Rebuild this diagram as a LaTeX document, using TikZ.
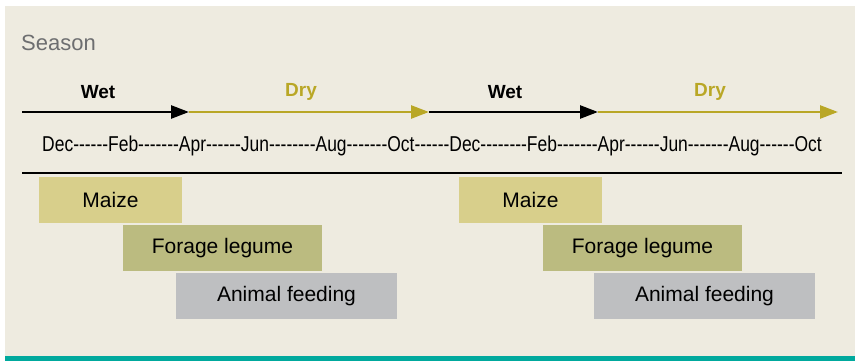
\documentclass[tikz,border=0pt]{standalone}
\usepackage{fontspec}
\setmainfont{Liberation Sans}
\newfontfamily\monthfont{Liberation Sans}
\usepackage{graphicx}
\usetikzlibrary{arrows.meta}
\definecolor{cream}{HTML}{EEEBE0}
\definecolor{teal}{HTML}{00A99D}
\definecolor{dryc}{HTML}{B9A726}
\definecolor{maizec}{HTML}{D8CF8B}
\definecolor{foragec}{HTML}{BBBB80}
\definecolor{animalc}{HTML}{BEBFC1}
\definecolor{seasonc}{HTML}{6D6E70}
\tikzset{
  seg/.style={line width=2.6pt, -{Triangle[length=18pt,width=13pt]}},
  seglabel/.style={font=\fontsize{19}{19}\selectfont\bfseries, inner sep=0pt},
  bar/.style={rectangle, inner sep=0pt, minimum height=46pt, font=\fontsize{21}{21}\selectfont, text=black},
}
\begin{document}
\begin{tikzpicture}[x=1pt,y=-1pt]
\useasboundingbox (0,0) rectangle (855,361);
\fill[white] (0,0) rectangle (855,361);
\fill[cream] (5,6) rectangle (855,356);
\fill[teal] (5,356) rectangle (855,361);

\node[anchor=west, inner sep=0pt, text=seasonc, font=\fontsize{22}{22}\selectfont] (season) at (21,43) {Season};

% season arrows
\coordinate (a0) at (22,112);
\coordinate (a1) at (189,112);
\coordinate (a2) at (429,112);
\coordinate (a3) at (598,112);
\coordinate (a4) at (838,112);
\draw[seg, black] (a0) -- (a1);
\draw[seg, dryc] (a1) -- (a2);
\draw[seg, black] (a2) -- (a3);
\draw[seg, dryc] (a3) -- (a4);

\node[seglabel, text=black] (wet1) at (98,92) {Wet};
\node[seglabel, text=dryc] (dry1) at (301,92) {Dry};
\node[seglabel, text=black] (wet2) at (505,92) {Wet};
\node[seglabel, text=dryc] (dry2) at (710,92) {Dry};

% months
\node[inner sep=0pt, font=\monthfont\fontsize{21.5}{21.5}\selectfont] (months) at (432,146)
  {\scalebox{0.812}[1]{Dec------Feb-------Apr------Jun--------Aug-------Oct------Dec--------Feb-------Apr------Jun-------Aug------Oct}};

% rule
\coordinate (r0) at (22,173);
\coordinate (r1) at (842,173);
\draw[line width=2.2pt, black] (r0) -- (r1);

% bars, first year
\node[bar, fill=maizec, minimum width=143pt] (maize1) at (110.5,200) {Maize};
\node[bar, fill=foragec, minimum width=199pt] (forage1) at (222.5,248) {Forage legume};
\node[bar, fill=animalc, minimum width=221pt] (animal1) at (286.5,296) {Animal feeding};
% bars, second year
\node[bar, fill=maizec, minimum width=143pt] (maize2) at (530.5,200) {Maize};
\node[bar, fill=foragec, minimum width=199pt] (forage2) at (642.5,248) {Forage legume};
\node[bar, fill=animalc, minimum width=221pt] (animal2) at (704.5,296) {Animal feeding};
\end{tikzpicture}
\end{document}
